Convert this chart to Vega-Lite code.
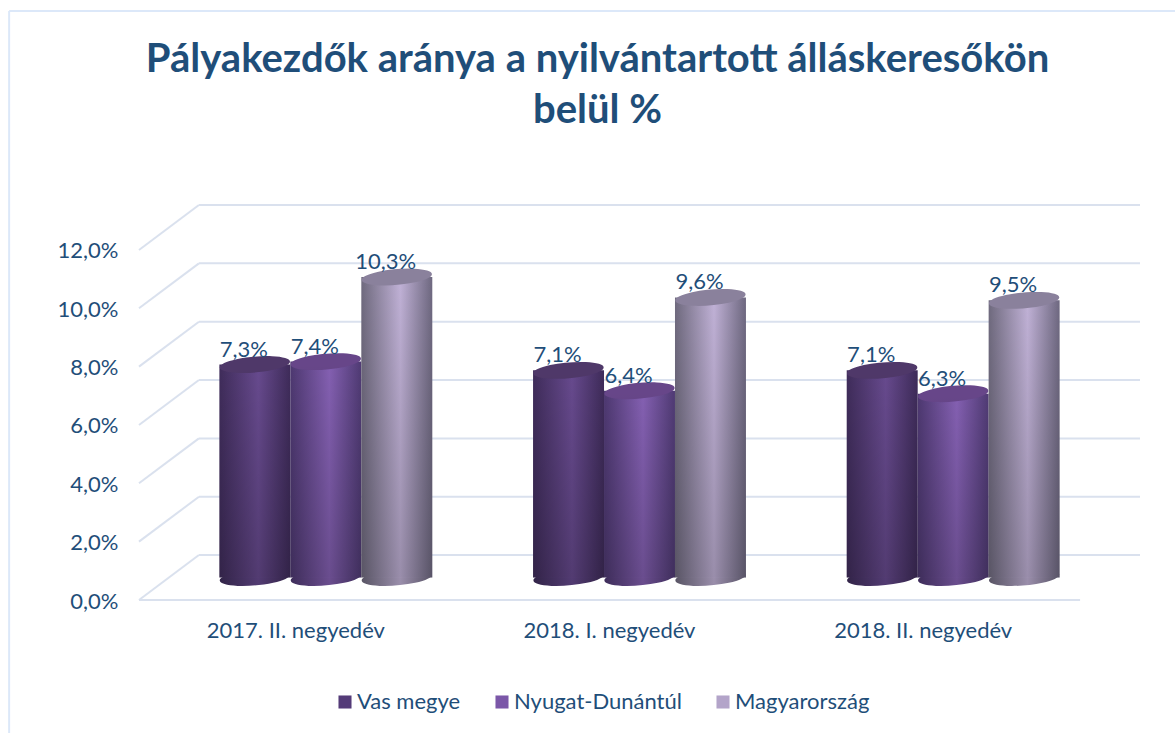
{
"$schema":"https://vega.github.io/schema/vega-lite/v6.json",
"width":1001,"height":395,
"autosize":{"type":"none"},
"padding":{"left":139,"top":205,"right":35,"bottom":133},
"background":"white",
"title":{"text":["Pályakezdők aránya a nyilvántartott álláskeresőkön","belül %"],"font":"Lato","fontSize":40,"fontWeight":"bold","color":"#1F4E79","anchor":"middle","dx":-42,"offset":-121,"lineHeight":51},
"config":{"view":{"stroke":null},"font":"Lato"},
"datasets":{
"bars":[
{"negyedev":"2017. II. negyedév","sorozat":"Vas megye","ertek":7.3,"cimke":"7,3%"},
{"negyedev":"2017. II. negyedév","sorozat":"Nyugat-Dunántúl","ertek":7.4,"cimke":"7,4%"},
{"negyedev":"2017. II. negyedév","sorozat":"Magyarország","ertek":10.3,"cimke":"10,3%"},
{"negyedev":"2018. I. negyedév","sorozat":"Vas megye","ertek":7.1,"cimke":"7,1%"},
{"negyedev":"2018. I. negyedév","sorozat":"Nyugat-Dunántúl","ertek":6.4,"cimke":"6,4%"},
{"negyedev":"2018. I. negyedév","sorozat":"Magyarország","ertek":9.6,"cimke":"9,6%"},
{"negyedev":"2018. II. negyedév","sorozat":"Vas megye","ertek":7.1,"cimke":"7,1%"},
{"negyedev":"2018. II. negyedév","sorozat":"Nyugat-Dunántúl","ertek":6.3,"cimke":"6,3%"},
{"negyedev":"2018. II. negyedév","sorozat":"Magyarország","ertek":9.5,"cimke":"9,5%"}
]},
"layer":[
{"data":{"values":[
{"kind":"frame","a":-0.414,"b":20.19,"a2":3.303,"b2":20.19},
{"kind":"frame","a":-0.414,"b":20.19,"a2":-0.414,"b2":-4.56},
{"kind":"grid","a":0,"b":0,"a2":3,"b2":0},
{"kind":"grid","a":0,"b":0,"a2":0.191,"b2":1.54},
{"kind":"grid","a":0,"b":2,"a2":0.191,"b2":3.54},
{"kind":"grid","a":0,"b":4,"a2":0.191,"b2":5.54},
{"kind":"grid","a":0,"b":6,"a2":0.191,"b2":7.54},
{"kind":"grid","a":0,"b":8,"a2":0.191,"b2":9.54},
{"kind":"grid","a":0,"b":10,"a2":0.191,"b2":11.54},
{"kind":"grid","a":0,"b":12,"a2":0.191,"b2":13.54},
{"kind":"grid","a":0.191,"b":1.54,"a2":3.191,"b2":1.54},
{"kind":"grid","a":0.191,"b":3.54,"a2":3.191,"b2":3.54},
{"kind":"grid","a":0.191,"b":5.54,"a2":3.191,"b2":5.54},
{"kind":"grid","a":0.191,"b":7.54,"a2":3.191,"b2":7.54},
{"kind":"grid","a":0.191,"b":9.54,"a2":3.191,"b2":9.54},
{"kind":"grid","a":0.191,"b":11.54,"a2":3.191,"b2":11.54},
{"kind":"grid","a":0.191,"b":13.54,"a2":3.191,"b2":13.54}
]},
"mark":{"type":"rule","strokeWidth":2,"clip":false},
"encoding":{
"x":{"field":"a","type":"quantitative","scale":{"domain":[0,3.191],"nice":false,"zero":false},"axis":null},
"x2":{"field":"a2"},
"y":{"field":"b","type":"quantitative","scale":{"domain":[0,13.54],"nice":false,"zero":false},"axis":{"values":[0,2,4,6,8,10,12],"title":null,"domain":false,"ticks":false,"grid":false,"labelFont":"Lato","labelFontSize":22,"labelColor":"#1F4E79","labelPadding":21,"labelOffset":1,"labelExpr":"replace(format(datum.value,'.1f'),'.',',')+'%'"}},
"y2":{"field":"b2"},
"color":{"field":"kind","type":"nominal","scale":{"domain":["frame","grid"],"range":["#DCE8F9","#DAE1EE"]},"legend":null}
}},
{"data":{"name":"bars"},
"encoding":{
"x":{"field":"negyedev","type":"nominal","sort":null,"scale":{"domain":["2017. II. negyedév","2018. I. negyedév","2018. II. negyedév"],"range":[0,941],"paddingInner":0,"paddingOuter":0},"axis":{"title":null,"domain":false,"ticks":false,"grid":false,"labelAngle":0,"labelFont":"Lato","labelFontSize":22,"labelColor":"#1F4E79","labelPadding":20}},
"xOffset":{"field":"sorozat","type":"nominal","sort":null,"scale":{"domain":["Vas megye","Nyugat-Dunántúl","Magyarország"],"range":[30,343.67],"paddingInner":0,"paddingOuter":0.71}},
"y":{"field":"ertek","type":"quantitative"}
},
"layer":[
{"mark":{"type":"bar","yOffset":-22.5,"y2Offset":-22.5,"opacity":0.01},
"encoding":{"y2":{"datum":0},"color":{"field":"sorozat","type":"nominal","sort":null,"scale":{"domain":["Vas megye","Nyugat-Dunántúl","Magyarország"],"range":["#543B78","#7B57A8","#B3A4C9"]},"legend":{"title":null,"orient":"none","legendX":195,"legendY":486,"direction":"horizontal","symbolType":"square","symbolSize":170,"symbolOpacity":1,"labelFont":"Lato","labelFontSize":22,"labelColor":"#1F4E79","columnPadding":30,"labelOffset":1,"labelLimit":300}}}},

{"transform":[{"filter":"datum.sorozat==='Vas megye'"}],"mark":{"type":"point","filled":true,"opacity":1,"size":4970,"yOffset":-22.5,"color":{"gradient":"linear","x1":0,"y1":0,"x2":1,"y2":0,"stops":[{"offset":0,"color":"#322448"},{"offset":0.55,"color":"#523B72"},{"offset":1,"color":"#322347"}]},"shape":"M -0.996 0.087 A 1 0.22 -5 1 0 0.996 -0.087 A 1 0.22 -5 1 0 -0.996 0.087 Z"},"encoding":{"y":{"datum":0}}},
{"transform":[{"filter":"datum.sorozat==='Vas megye'"}],"mark":{"type":"bar","yOffset":-22.5,"y2Offset":-22.5,"color":{"gradient":"linear","x1":0,"y1":0,"x2":1,"y2":0,"stops":[{"offset":0,"color":"#3F2C5A"},{"offset":0.55,"color":"#674A8E"},{"offset":1,"color":"#3E2B59"}]}},"encoding":{"y2":{"datum":0}}},
{"transform":[{"filter":"datum.sorozat==='Vas megye'"}],"mark":{"type":"point","filled":true,"opacity":1,"size":4970,"yOffset":-22.5,"color":"#4F3869","shape":"M -0.996 0.087 A 1 0.22 -5 1 0 0.996 -0.087 A 1 0.22 -5 1 0 -0.996 0.087 Z"}},

{"transform":[{"filter":"datum.sorozat==='Nyugat-Dunántúl'"}],"mark":{"type":"point","filled":true,"opacity":1,"size":4970,"yOffset":-22.5,"color":{"gradient":"linear","x1":0,"y1":0,"x2":1,"y2":0,"stops":[{"offset":0,"color":"#3E2D5A"},{"offset":0.55,"color":"#6A4D8E"},{"offset":1,"color":"#3F2E5C"}]},"shape":"M -0.996 0.087 A 1 0.22 -5 1 0 0.996 -0.087 A 1 0.22 -5 1 0 -0.996 0.087 Z"},"encoding":{"y":{"datum":0}}},
{"transform":[{"filter":"datum.sorozat==='Nyugat-Dunántúl'"}],"mark":{"type":"bar","yOffset":-22.5,"y2Offset":-22.5,"color":{"gradient":"linear","x1":0,"y1":0,"x2":1,"y2":0,"stops":[{"offset":0,"color":"#4D3870"},{"offset":0.55,"color":"#8460B2"},{"offset":1,"color":"#4F3A73"}]}},"encoding":{"y2":{"datum":0}}},
{"transform":[{"filter":"datum.sorozat==='Nyugat-Dunántúl'"}],"mark":{"type":"point","filled":true,"opacity":1,"size":4970,"yOffset":-22.5,"color":"#674689","shape":"M -0.996 0.087 A 1 0.22 -5 1 0 0.996 -0.087 A 1 0.22 -5 1 0 -0.996 0.087 Z"}},

{"transform":[{"filter":"datum.sorozat==='Magyarország'"}],"mark":{"type":"point","filled":true,"opacity":1,"size":4970,"yOffset":-22.5,"color":{"gradient":"linear","x1":0,"y1":0,"x2":1,"y2":0,"stops":[{"offset":0,"color":"#595565"},{"offset":0.55,"color":"#9A8EAB"},{"offset":1,"color":"#585366"}]},"shape":"M -0.996 0.087 A 1 0.22 -5 1 0 0.996 -0.087 A 1 0.22 -5 1 0 -0.996 0.087 Z"},"encoding":{"y":{"datum":0}}},
{"transform":[{"filter":"datum.sorozat==='Magyarország'"}],"mark":{"type":"bar","yOffset":-22.5,"y2Offset":-22.5,"color":{"gradient":"linear","x1":0,"y1":0,"x2":1,"y2":0,"stops":[{"offset":0,"color":"#6F6A7E"},{"offset":0.55,"color":"#C0B1D6"},{"offset":1,"color":"#6E6880"}]}},"encoding":{"y2":{"datum":0}}},
{"mark":{"type":"bar","yOffset":-22.5,"y2Offset":-22.5,"color":{"gradient":"linear","x1":0,"y1":0,"x2":0,"y2":1,"stops":[{"offset":0,"color":"rgba(0,0,0,0)"},{"offset":1,"color":"rgba(0,0,0,0.2)"}]}},"encoding":{"y2":{"datum":0}}},
{"transform":[{"filter":"datum.sorozat==='Magyarország'"}],"mark":{"type":"point","filled":true,"opacity":1,"size":4970,"yOffset":-22.5,"color":"#8A819C","shape":"M -0.996 0.087 A 1 0.22 -5 1 0 0.996 -0.087 A 1 0.22 -5 1 0 -0.996 0.087 Z"}},

{"mark":{"type":"text","font":"Lato","fontSize":22,"color":"#1F4E79","dx":-11,"yOffset":-37.5,"baseline":"middle"},"encoding":{"text":{"field":"cimke","type":"nominal"}}}
]}
],
"resolve":{"scale":{"x":"independent","color":"independent"},"axis":{"x":"independent"},"legend":{"color":"independent"}}
}
